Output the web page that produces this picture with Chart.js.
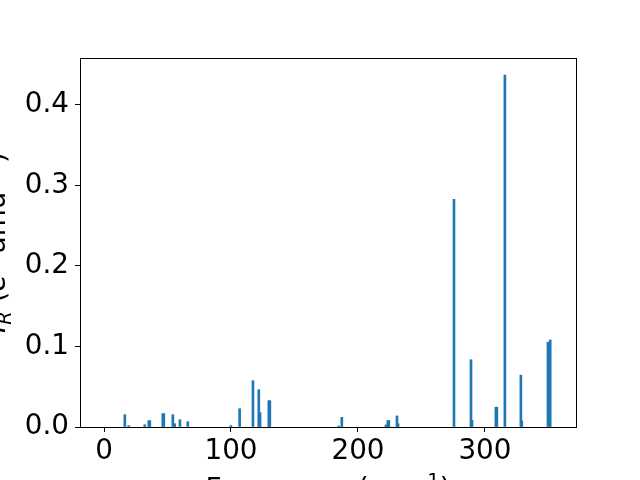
<!DOCTYPE html>
<html><head><meta charset="utf-8">
<script src="https://cdn.jsdelivr.net/npm/chart.js@4.4.0/dist/chart.umd.min.js"></script>
<style>html,body{margin:0;padding:0;background:#fff;}canvas{display:block;}</style>
</head><body>
<canvas id="c" width="640" height="480"></canvas>
<script>
const frequencies = [16.4, 19.5, 32.1, 35.3, 36.1, 46.3, 47.1, 54.2, 55.7, 59.8, 66.0,
  99.9, 106.8, 117.3, 121.9, 122.9, 129.8, 130.6, 184.9, 187.3, 222.0, 223.5, 224.3,
  230.7, 231.6, 275.6, 289.0, 289.8, 308.6, 309.4, 315.7, 328.3, 329.0, 349.6, 351.4];
const intensities = [0.0153, 0.0017, 0.0028, 0.0078, 0.0078, 0.0165, 0.0165, 0.0153, 0.0040, 0.0090, 0.0066,
  0.0017, 0.0227, 0.0575, 0.0463, 0.0178, 0.0326, 0.0326, 0.0013, 0.0120, 0.0025, 0.0080, 0.0080,
  0.0137, 0.0040, 0.2825, 0.0835, 0.0083, 0.0245, 0.0245, 0.4367, 0.0643, 0.0075, 0.1053, 0.1080];
const xTicks = [0, 100, 200, 300];
const yTicks = [0.0, 0.1, 0.2, 0.3, 0.4];
const xLabelParts = [{t:'Frequency (cm'}, {t:'\u22121', sup:true}, {t:')'}];
const yLabelParts = [{t:'I', it:true}, {t:'R', it:true, sub:true}, {t:' ('}, {t:'e', it:true}, {t:'2', sup:true}, {t:' amu'}, {t:'\u22121', sup:true}, {t:')'}];

const FS = 27.8;
const FAM = '"DejaVu Sans"';
function partFont(p){ const s = (p.sub||p.sup) ? FS*0.7 : FS; return (p.it?'oblique ':'') + s + 'px ' + FAM; }
function drawParts(ctx, parts, cx, baseY){
  let w = 0;
  parts.forEach(p=>{ ctx.font = partFont(p); p.w = ctx.measureText(p.t).width; w += p.w; });
  let x = cx - w/2;
  parts.forEach(p=>{
    ctx.font = partFont(p);
    let dy = 0; if (p.sub) dy = FS*0.22; if (p.sup) dy = -FS*0.4;
    ctx.fillText(p.t, x, baseY + dy);
    x += p.w;
  });
}
const framePlugin = {
  id:'frame',
  afterDraw(chart){
    const ctx = chart.ctx, a = chart.chartArea;
    ctx.save();
    ctx.strokeStyle = '#000'; ctx.lineWidth = 1;
    ctx.strokeRect(Math.round(a.left)+0.5, Math.round(a.top)+0.5, Math.round(a.right-a.left), Math.round(a.bottom-a.top));
    ctx.fillStyle = '#000'; ctx.textBaseline = 'alphabetic'; ctx.textAlign = 'left';
    drawParts(ctx, xLabelParts, (a.left+a.right)/2, 498);
    ctx.translate(4.5, (a.top+a.bottom)/2);
    ctx.rotate(-Math.PI/2);
    drawParts(ctx, yLabelParts, 0, 0);
    ctx.restore();
  }
};
new Chart(document.getElementById('c'), {
  type:'bar',
  data:{ datasets:[{ data: frequencies.map((f,i)=>({x:f, y:intensities[i]})), backgroundColor:'#1f77b4', borderWidth:0, barThickness:2 }] },
  options:{
    responsive:false, animation:false, devicePixelRatio:1,
    layout:{ padding:{ left:0, right:64, top:58, bottom:0 } },
    plugins:{ legend:{display:false}, tooltip:{enabled:false} },
    scales:{
      x:{ type:'linear', offset:false, min:-18.9, max:371.7,
        afterBuildTicks(s){ s.ticks = xTicks.map(v=>({value:v})); },
        afterFit(s){ s.height = 53; },
        border:{display:false},
        grid:{ display:true, offset:false, drawOnChartArea:false, drawTicks:true, tickLength:5, color:'#000', lineWidth:1 },
        ticks:{ color:'#000', font:{ family:'DejaVu Sans', size:FS }, padding:3, autoSkip:false, maxRotation:0, minRotation:0, callback:v=>String(v) } },
      y:{ type:'linear', min:0, max:0.458,
        afterBuildTicks(s){ s.ticks = yTicks.map(v=>({value:v})); },
        afterFit(s){ s.width = 80; },
        border:{display:false},
        grid:{ display:true, offset:false, drawOnChartArea:false, drawTicks:true, tickLength:5, color:'#000', lineWidth:1 },
        ticks:{ color:'#000', font:{ family:'DejaVu Sans', size:FS }, padding:6, autoSkip:false, callback:v=>v.toFixed(1) } }
    }
  },
  plugins:[framePlugin]
});
</script>
</body></html>
